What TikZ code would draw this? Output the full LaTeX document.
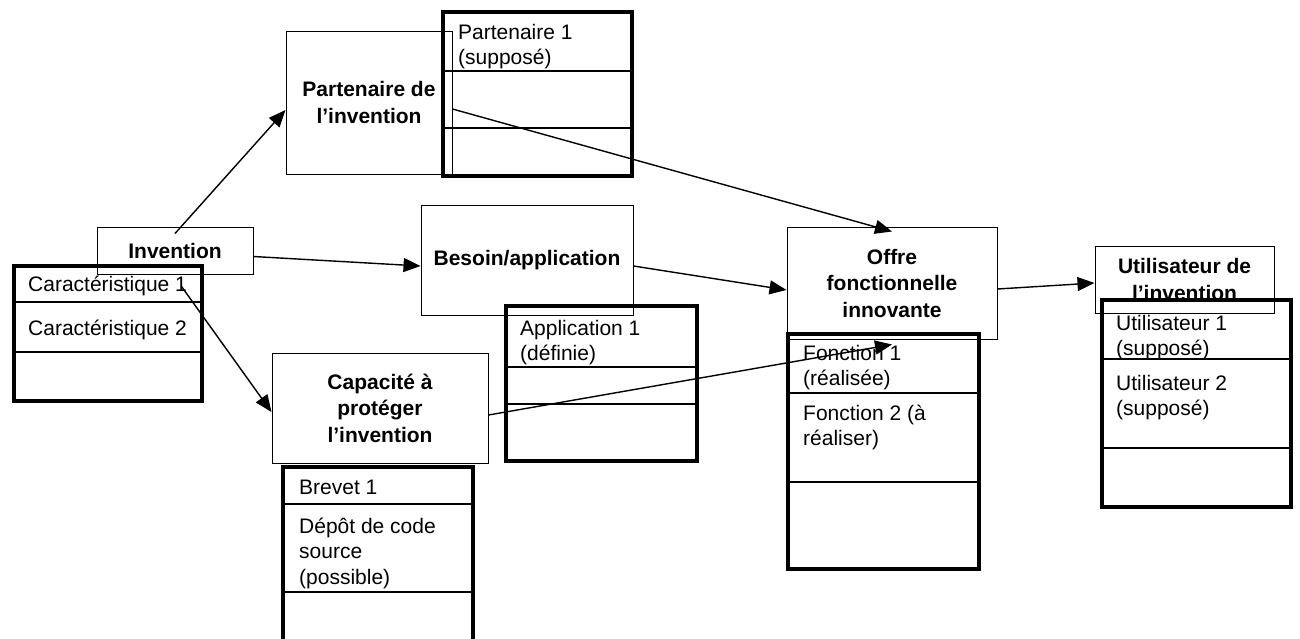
\documentclass[tikz,border=0pt]{standalone}
\usepackage{fontspec}
\setmainfont{Liberation Sans}
\usetikzlibrary{arrows.meta}

\begin{document}
\begin{tikzpicture}[x=1pt, y=-1pt, every node/.style={font=\fontsize{21}{25.5}\selectfont},
  boite/.style={draw, line width=1pt, align=center, inner sep=0pt, font=\fontsize{21}{26.5}\selectfont\bfseries},
  cellule/.style={anchor=north west, inner sep=0pt, align=left},
  cadre/.style={line width=4pt},
  ligne/.style={line width=1.3pt},
  fleche/.style={-{Triangle[length=17pt,width=14pt]}, line width=1.4pt}]
  \useasboundingbox (0,0) rectangle (1300,638);
  \clip (0,0) rectangle (1300,638);

  % Tableau des caracteristiques
  \draw[ligne] (14,302) -- (202,302) (14,352) -- (202,352);
  \draw[cadre] (14,266) rectangle (202,401);
  \node[cellule] (car1) at (28,273) {\strut Caractéristique 1};
  \node[cellule] (car2) at (28,317) {\strut Caractéristique 2};

  % Tableau des partenaires
  \draw[ligne] (443,71) -- (632,71) (443,128) -- (632,128);
  \draw[cadre] (443,12) rectangle (632,176);
  \node[cellule] (par1) at (458,21) {\strut Partenaire 1\\(supposé)};

  % Tableau des applications
  \draw[ligne] (506,367) -- (697,367) (506,404) -- (697,404);
  \draw[cadre] (506,306) rectangle (697,461);
  \node[cellule] (app1) at (520,317) {\strut Application 1\\(définie)};

  % Tableau des brevets
  \draw[ligne] (283,504) -- (473,504) (283,592) -- (473,592);
  \draw[cadre] (283,467) rectangle (473,650);
  \node[cellule] (brev1) at (299,476) {\strut Brevet 1};
  \node[cellule] (depot) at (299,515) {\strut Dépôt de code\\source\\(possible)};

  % Tableau des fonctions
  \draw[ligne] (788,393) -- (979,393) (788,482) -- (979,482);
  \draw[cadre] (788,334) rectangle (979,569);
  \node[cellule] (fonc1) at (803,342) {\strut Fonction 1\\(réalisée)};
  \node[cellule] (fonc2) at (803,402) {\strut Fonction 2 (à\\réaliser)};

  % Tableau des utilisateurs
  \draw[ligne] (1102,359) -- (1291,359) (1102,448) -- (1291,448);
  \draw[cadre] (1102,300) rectangle (1291,507);
  \node[cellule] (uti1) at (1116,312) {\strut Utilisateur 1\\(supposé)};
  \node[cellule] (uti2) at (1116,372) {\strut Utilisateur 2\\(supposé)};

  % Boites principales
  \node[boite, minimum width=156pt, minimum height=47pt] (inv) at (175,250.5) {Invention};
  \node[boite, minimum width=166pt, minimum height=143pt] (part) at (369,102.5) {Partenaire de\\l’invention};
  \node[boite, minimum width=212pt, minimum height=110pt] (besoin) at (527,260) {Besoin/application};
  \node[boite, minimum width=216pt, minimum height=110pt] (cap) at (380,408) {Capacité à\\protéger\\l’invention};
  \node[boite, minimum width=210pt, minimum height=112pt] (offre) at (892,283) {Offre\\fonctionnelle\\innovante};
  \node[boite, minimum width=179pt, minimum height=67pt] (uti) at (1184.5,279.5) {Utilisateur de\\l’invention};

  % Fleches
  \draw[fleche] ([yshift=-7pt]inv.north) -- ([yshift=-7.5pt]part.west);
  \draw[fleche] ([yshift=-6pt]inv.east) -- ([yshift=-6pt]besoin.west);
  \draw[fleche] ([xshift=-6pt]car1.east) -- ([yshift=-4pt]cap.west);
  \draw[fleche] ([yshift=-6.5pt]part.east) -- ([yshift=-5pt]offre.north);
  \draw[fleche] ([yshift=-6pt]besoin.east) -- ([yshift=-7pt]offre.west);
  \draw[fleche] ([yshift=-7pt]cap.east) -- ([yshift=-5pt]offre.south);
  \draw[fleche] ([yshift=-6pt]offre.east) -- ([yshift=-3.5pt]uti.west);
\end{tikzpicture}
\end{document}
